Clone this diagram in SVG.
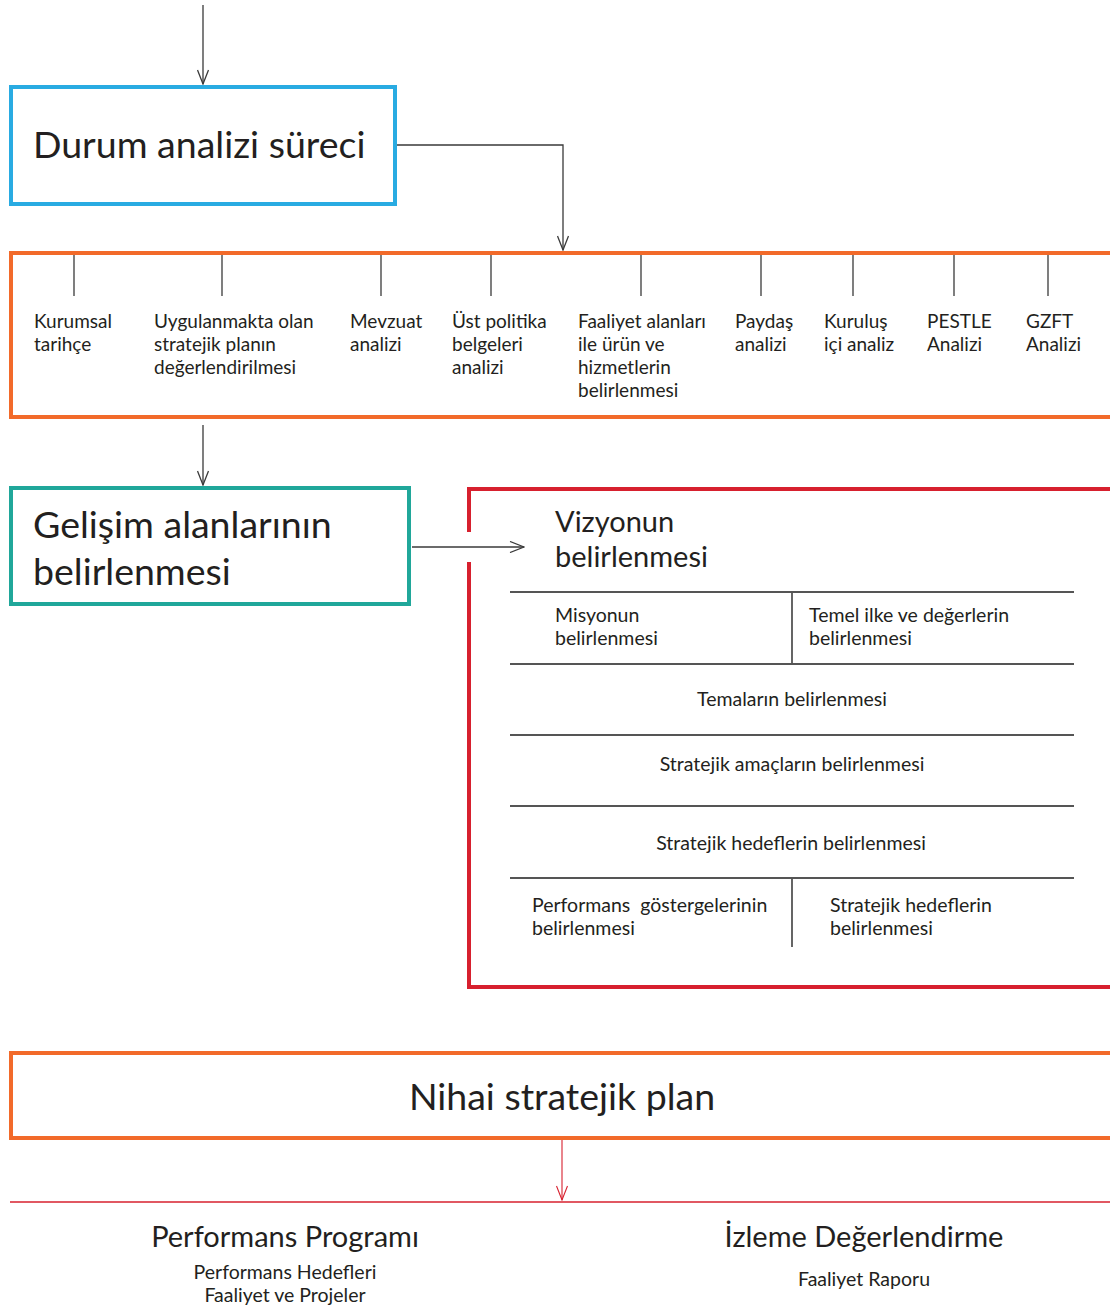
<svg xmlns="http://www.w3.org/2000/svg" width="1110" height="1309" viewBox="0 0 1110 1309">
<style>
text{font-family:Lato,"Open Sans","Liberation Sans",sans-serif;fill:#231f20}
.big{font-size:37.5px}
.sm{font-size:19px}
.in{font-size:19.5px}
.md{font-size:29px}
.c{text-anchor:middle}
.ln{stroke:#3a3a3a;stroke-width:1.3;fill:none}
.sep{stroke:#555;stroke-width:1.8;fill:none}
</style>
<defs>
<marker id="ah" viewBox="0 0 16 12" refX="15" refY="6" markerWidth="16" markerHeight="12" markerUnits="userSpaceOnUse" orient="auto">
<path d="M1,0.5 L15,6 L1,11.5" fill="none" stroke="#3a3a3a" stroke-width="1.3"/>
</marker>
<marker id="ahr" viewBox="0 0 16 12" refX="15" refY="6" markerWidth="16" markerHeight="12" markerUnits="userSpaceOnUse" orient="auto">
<path d="M1,0.5 L15,6 L1,11.5" fill="none" stroke="#d7202e" stroke-width="1.1"/>
</marker>
</defs>
<rect width="1110" height="1309" fill="#fff"/>

<g id="connectors">
<line class="ln" x1="203" y1="5" x2="203" y2="84" marker-end="url(#ah)"/>
<polyline class="ln" points="397,145 563,145 563,250" marker-end="url(#ah)"/>
<line class="ln" x1="203" y1="425" x2="203" y2="485" marker-end="url(#ah)"/>
<line class="ln" x1="412" y1="547" x2="524" y2="547" marker-end="url(#ah)"/>
<line x1="562" y1="1140" x2="562" y2="1200" stroke="#d7202e" stroke-width="1.1" marker-end="url(#ahr)"/>
</g>

<g id="durum">
<rect x="11" y="87" width="384" height="117" fill="none" stroke="#29abe2" stroke-width="4"/>
<text class="big" x="33" y="158">Durum analizi süreci</text>
</g>

<g id="analizler">
<rect x="11" y="253" width="1110" height="164" fill="none" stroke="#f26a2a" stroke-width="4"/>
<g class="ln">
<line x1="74" y1="255" x2="74" y2="296"/>
<line x1="222" y1="255" x2="222" y2="296"/>
<line x1="381" y1="255" x2="381" y2="296"/>
<line x1="491" y1="255" x2="491" y2="296"/>
<line x1="641" y1="255" x2="641" y2="296"/>
<line x1="761" y1="255" x2="761" y2="296"/>
<line x1="853" y1="255" x2="853" y2="296"/>
<line x1="954" y1="255" x2="954" y2="296"/>
<line x1="1048" y1="255" x2="1048" y2="296"/>
</g>
<text class="sm" x="34" y="328">Kurumsal<tspan x="34" dy="23">tarihçe</tspan></text>
<text class="sm" x="154" y="328">Uygulanmakta olan<tspan x="154" dy="23">stratejik planın</tspan><tspan x="154" dy="23">değerlendirilmesi</tspan></text>
<text class="sm" x="350" y="328">Mevzuat<tspan x="350" dy="23">analizi</tspan></text>
<text class="sm" x="452" y="328">Üst politika<tspan x="452" dy="23">belgeleri</tspan><tspan x="452" dy="23">analizi</tspan></text>
<text class="sm" x="578" y="328">Faaliyet alanları<tspan x="578" dy="23">ile ürün ve</tspan><tspan x="578" dy="23">hizmetlerin</tspan><tspan x="578" dy="23">belirlenmesi</tspan></text>
<text class="sm" x="735" y="328">Paydaş<tspan x="735" dy="23">analizi</tspan></text>
<text class="sm" x="824" y="328">Kuruluş<tspan x="824" dy="23">içi analiz</tspan></text>
<text class="sm" x="927" y="328">PESTLE<tspan x="927" dy="23">Analizi</tspan></text>
<text class="sm" x="1026" y="328">GZFT<tspan x="1026" dy="23">Analizi</tspan></text>
</g>

<g id="gelisim">
<rect x="11" y="488" width="398" height="116" fill="none" stroke="#20a79a" stroke-width="4"/>
<text class="big" x="33" y="538">Gelişim alanlarının<tspan x="33" dy="47">belirlenmesi</tspan></text>
</g>

<g id="planlama">
<path d="M469,532 L469,489 L1120,489 M469,562 L469,987 L1120,987" fill="none" stroke="#d7202e" stroke-width="4"/>
<g class="sep">
<line x1="510" y1="592" x2="1074" y2="592"/>
<line x1="510" y1="664" x2="1074" y2="664"/>
<line x1="510" y1="735" x2="1074" y2="735"/>
<line x1="510" y1="806" x2="1074" y2="806"/>
<line x1="510" y1="878" x2="1074" y2="878"/>
<line x1="792" y1="592" x2="792" y2="664"/>
<line x1="792" y1="878" x2="792" y2="947"/>
</g>
<text class="md" x="555" y="532">Vizyonun<tspan x="555" dy="35">belirlenmesi</tspan></text>
<text class="in" x="555" y="622">Misyonun<tspan x="555" dy="23">belirlenmesi</tspan></text>
<text class="in" x="809" y="622">Temel ilke ve değerlerin<tspan x="809" dy="23">belirlenmesi</tspan></text>
<text class="in c" x="792" y="706">Temaların belirlenmesi</text>
<text class="in c" x="792" y="771">Stratejik amaçların belirlenmesi</text>
<text class="in c" x="791" y="850">Stratejik hedeflerin belirlenmesi</text>
<text class="in" x="532" y="912" xml:space="preserve">Performans  göstergelerinin<tspan x="532" dy="23">belirlenmesi</tspan></text>
<text class="in" x="830" y="912">Stratejik hedeflerin<tspan x="830" dy="23">belirlenmesi</tspan></text>
</g>

<g id="nihai">
<rect x="11" y="1053" width="1110" height="85" fill="none" stroke="#f26a2a" stroke-width="4"/>
<text class="big c" x="562" y="1110">Nihai stratejik plan</text>
</g>

<line x1="10" y1="1202" x2="1110" y2="1202" stroke="#d7202e" stroke-width="1.3"/>

<g id="performans">
<text class="md c" x="285" y="1247">Performans Programı</text>
<text class="in c" x="285" y="1279">Performans Hedefleri<tspan x="285" dy="23">Faaliyet ve Projeler</tspan></text>
</g>

<g id="izleme">
<text class="md c" x="864" y="1247">İzleme Değerlendirme</text>
<text class="in c" x="864" y="1286">Faaliyet Raporu</text>
</g>
</svg>
